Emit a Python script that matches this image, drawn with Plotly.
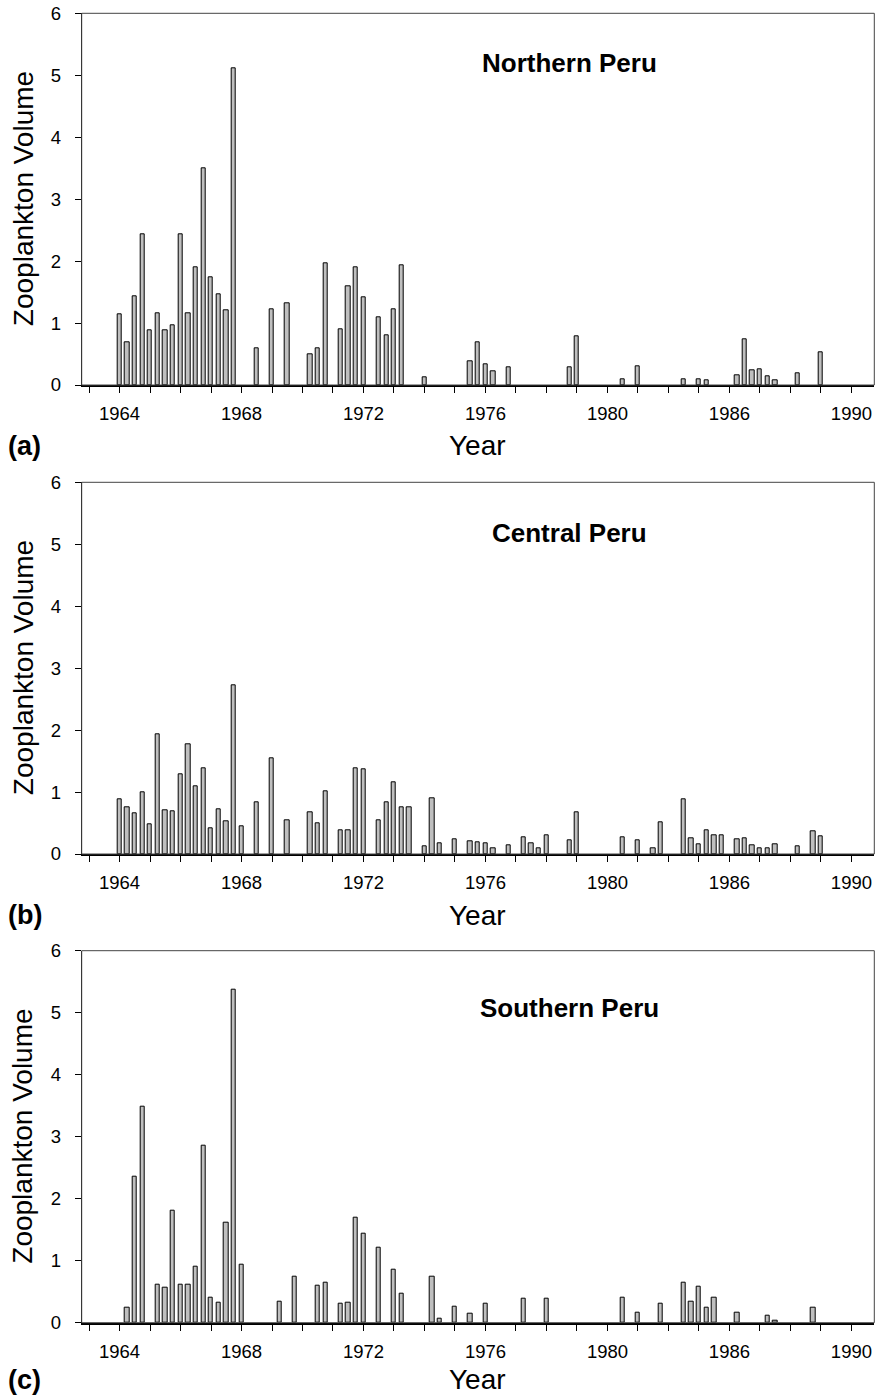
import plotly.graph_objects as go

# ---------------- data (time in decimal years, quarterly samples) ----------------
north_time = [1964.0, 1964.25, 1964.5, 1964.75, 1965.0, 1965.25, 1965.5, 1965.75,
              1966.0, 1966.25, 1966.5, 1966.75, 1967.0, 1967.25, 1967.5, 1967.75,
              1968.5, 1969.0, 1969.5, 1970.25, 1970.5, 1970.75, 1971.25, 1971.5,
              1971.75, 1972.0, 1972.5, 1972.75, 1973.0, 1973.25, 1974.0, 1975.5,
              1975.75, 1976.0, 1976.25, 1976.75, 1978.75, 1979.0, 1980.5, 1981.0,
              1982.5, 1983.0, 1983.25, 1984.25, 1984.5, 1984.75, 1985.0, 1985.25,
              1985.5, 1986.25, 1987.0]
north_vol = [1.14, 0.69, 1.43, 2.43, 0.88, 1.15, 0.88, 0.97,
             2.43, 1.15, 1.90, 3.49, 1.74, 1.46, 1.21, 5.12,
             0.59, 1.23, 1.32, 0.49, 0.60, 1.96, 0.90, 1.60,
             1.90, 1.41, 1.09, 0.80, 1.23, 1.94, 0.12, 0.39,
             0.69, 0.34, 0.22, 0.29, 0.29, 0.78, 0.09, 0.31,
             0.09, 0.10, 0.08, 0.15, 0.74, 0.24, 0.25, 0.14,
             0.08, 0.19, 0.53]

central_time = [1964.0, 1964.25, 1964.5, 1964.75, 1965.0, 1965.25, 1965.5, 1965.75,
                1966.0, 1966.25, 1966.5, 1966.75, 1967.0, 1967.25, 1967.5, 1967.75,
                1968.0, 1968.5, 1969.0, 1969.5, 1970.25, 1970.5, 1970.75, 1971.25,
                1971.5, 1971.75, 1972.0, 1972.5, 1972.75, 1973.0, 1973.25, 1973.5,
                1974.0, 1974.25, 1974.5, 1975.0, 1975.5, 1975.75, 1976.0, 1976.25,
                1976.75, 1977.25, 1977.5, 1977.75, 1978.0, 1978.75, 1979.0, 1980.5,
                1981.0, 1981.5, 1981.75, 1982.5, 1982.75, 1983.0, 1983.25, 1983.5,
                1983.75, 1984.25, 1984.5, 1984.75, 1985.0, 1985.25, 1985.5, 1986.25,
                1986.75, 1987.0]
central_vol = [0.89, 0.75, 0.66, 1.00, 0.48, 1.93, 0.71, 0.69,
               1.28, 1.77, 1.09, 1.39, 0.41, 0.72, 0.53, 2.72,
               0.45, 0.83, 1.54, 0.55, 0.67, 0.50, 1.01, 0.39,
               0.38, 1.39, 1.36, 0.54, 0.83, 1.15, 0.75, 0.76,
               0.13, 0.90, 0.17, 0.23, 0.20, 0.19, 0.18, 0.10,
               0.14, 0.27, 0.17, 0.09, 0.31, 0.22, 0.67, 0.27,
               0.22, 0.10, 0.51, 0.89, 0.25, 0.15, 0.39, 0.31,
               0.30, 0.23, 0.26, 0.14, 0.09, 0.10, 0.16, 0.13,
               0.37, 0.29]

south_time = [1964.25, 1964.5, 1964.75, 1965.25, 1965.5, 1965.75, 1966.0, 1966.25,
              1966.5, 1966.75, 1967.0, 1967.25, 1967.5, 1967.75, 1968.0, 1969.25,
              1969.75, 1970.5, 1970.75, 1971.25, 1971.5, 1971.75, 1972.0, 1972.5,
              1973.0, 1973.25, 1974.25, 1974.5, 1975.0, 1975.5, 1976.0, 1977.25,
              1978.0, 1980.5, 1981.0, 1981.75, 1982.5, 1982.75, 1983.0, 1983.25,
              1983.5, 1984.25, 1985.25, 1985.5, 1986.75]
south_vol = [0.25, 2.36, 3.49, 0.62, 0.56, 1.81, 0.62, 0.62,
             0.90, 2.86, 0.40, 0.32, 1.62, 5.37, 0.93, 0.34,
             0.75, 0.60, 0.65, 0.30, 0.32, 1.70, 1.43, 1.21,
             0.86, 0.47, 0.74, 0.07, 0.26, 0.15, 0.30, 0.38,
             0.38, 0.40, 0.16, 0.31, 0.65, 0.34, 0.58, 0.25,
             0.41, 0.16, 0.12, 0.03, 0.24]

panel_titles = ["Northern Peru", "Central Peru", "Southern Peru"]
panel_letters = ["(a)", "(b)", "(c)"]
tick_years = list(range(1963, 1989))
tick_label_map = {1964: "1964", 1968: "1968", 1972: "1972", 1976: "1976",
                  1980: "1980", 1984: "1986", 1988: "1990"}
y_ticks = [0, 1, 2, 3, 4, 5, 6]

# ---------------- layout geometry ----------------
W, H = 879, 1397
FONT = "Liberation Sans, Arial, Helvetica, sans-serif"
x_dom = [81.7 / W, 874.3 / W]
panels_px = [(13.3, 385.0), (482.3, 854.0), (950.7, 1322.7)]  # (top, bottom) pixel
title_y_px = [63, 533, 1008]

fig = go.Figure()
series = [(north_time, north_vol), (central_time, central_vol), (south_time, south_vol)]
ticktext = [tick_label_map.get(y, "") for y in tick_years]

annotations = []
shapes = []
for i, ((t, v), (top, bot)) in enumerate(zip(series, panels_px)):
    n = "" if i == 0 else str(i + 1)
    fig.add_trace(go.Bar(
        x=t, y=v, width=0.14, xaxis="x" + n, yaxis="y" + n,
        marker=dict(color="#bfbfbf", line=dict(color="black", width=1)),
        showlegend=False,
    ))
    ydom = [1 - bot / H, 1 - top / H]
    fig.layout["xaxis" + n] = dict(
        domain=x_dom, anchor="y" + n, range=[1962.76, 1988.75], automargin=False,
        tickmode="array", tickvals=tick_years, ticktext=ticktext,
        ticks="outside", ticklen=6, tickwidth=1, tickcolor="black",
        showline=True, linecolor="black", linewidth=2,
        showgrid=False, zeroline=False,
        tickfont=dict(family=FONT, size=18.5, color="black"),
        ticklabelstandoff=5,
    )
    fig.layout["yaxis" + n] = dict(
        domain=ydom, anchor="x" + n, range=[0, 6], automargin=False,
        tickmode="array", tickvals=y_ticks,
        ticks="outside", ticklen=6, tickwidth=1, tickcolor="black",
        showline=True, linecolor="black", linewidth=1,
        showgrid=False, zeroline=False,
        tickfont=dict(family=FONT, size=18.5, color="black"),
        ticklabelstandoff=10,
    )
    shapes.append(dict(type="rect", xref="x" + n + " domain", yref="y" + n + " domain",
                       x0=0, x1=1, y0=0, y1=1, line=dict(color="#444444", width=1),
                       layer="above"))
    annotations.append(dict(text="<b>%s</b>" % panel_titles[i], xref="paper", yref="paper",
                            x=569 / W, y=1 - title_y_px[i] / H, xanchor="center",
                            yanchor="middle", showarrow=False,
                            font=dict(family=FONT, size=26, color="black")))
    annotations.append(dict(text="Zooplankton Volume", xref="paper", yref="paper",
                            x=23 / W, y=1 - ((top + bot) / 2) / H, xanchor="center",
                            yanchor="middle", textangle=-90, showarrow=False,
                            font=dict(family=FONT, size=28, color="black")))
    # bottom-row labels are anchored to the page bottom so they are not clipped
    if i < 2:
        lab_y, lab_anchor = 1 - (bot + 61) / H, "middle"
    else:
        lab_y, lab_anchor = 0.0, "bottom"
    annotations.append(dict(text="Year", xref="paper", yref="paper",
                            x=477 / W, y=lab_y, xanchor="center",
                            yanchor=lab_anchor, showarrow=False,
                            font=dict(family=FONT, size=28, color="black")))
    annotations.append(dict(text="<b>%s</b>" % panel_letters[i], xref="paper", yref="paper",
                            x=6 / W, y=lab_y, xanchor="left",
                            yanchor=lab_anchor, showarrow=False,
                            font=dict(family=FONT, size=27, color="black")))

fig.update_layout(
    template="none",
    width=W, height=H, margin=dict(l=0, r=0, t=0, b=0, pad=0, autoexpand=False),
    paper_bgcolor="white", plot_bgcolor="white",
    annotations=annotations, shapes=shapes, bargap=0,
)
fig.write_html("out.html")
